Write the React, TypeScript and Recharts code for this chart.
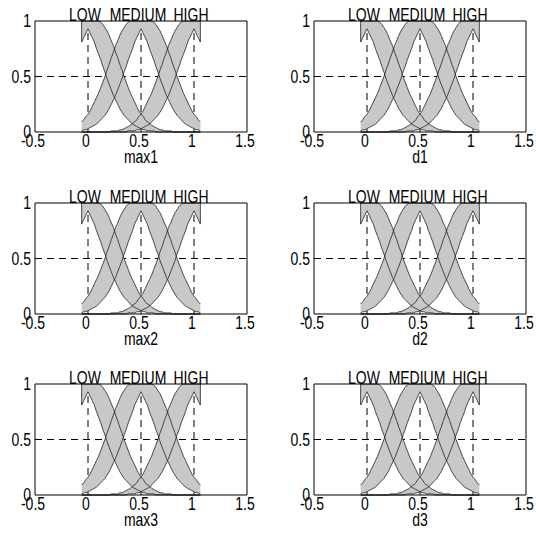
import { Area, CartesianGrid, ComposedChart, Line, ReferenceLine, XAxis, YAxis } from "recharts";

// universe of discourse sampled every 0.02
const xs = [
  -0.06, -0.04, -0.02, 0, 0.02, 0.04, 0.06, 0.08, 0.1, 0.12, 0.14, 0.16, 0.18, 0.2, 0.22,
  0.24, 0.26, 0.28, 0.3, 0.32, 0.34, 0.36, 0.38, 0.4, 0.42, 0.44, 0.46, 0.48, 0.5, 0.52,
  0.54, 0.56, 0.58, 0.6, 0.62, 0.64, 0.66, 0.68, 0.7, 0.72, 0.74, 0.76, 0.78, 0.8, 0.82,
  0.84, 0.86, 0.88, 0.9, 0.92, 0.94, 0.96, 0.98, 1, 1.02, 1.04, 1.06,
];

// upper / lower membership functions
const lowUpper = [
  1, 1, 1, 1, 1, 1, 1, 1, 1, 0.99, 0.97, 0.94, 0.91, 0.87, 0.82, 0.78, 0.72, 0.67, 0.61,
  0.56, 0.5, 0.45, 0.4, 0.35, 0.31, 0.27, 0.23, 0.19, 0.16, 0.14, 0.11, 0.09, 0.08, 0.06,
  0.05, 0.04, 0.03, 0.02, 0.02, 0.01, 0.01, 0.01, 0.01, 0, 0, 0, 0, 0, 0, 0, 0, 0, 0, 0, 0,
  0, 0,
];
const lowLower = [
  0.81, 0.85, 0.89, 0.93, 0.89, 0.85, 0.81, 0.75, 0.7, 0.65, 0.59, 0.54, 0.48, 0.43, 0.38,
  0.33, 0.29, 0.25, 0.21, 0.18, 0.15, 0.13, 0.11, 0.09, 0.07, 0.06, 0.05, 0.04, 0.03, 0.02,
  0.02, 0.01, 0.01, 0.01, 0.01, 0, 0, 0, 0, 0, 0, 0, 0, 0, 0, 0, 0, 0, 0, 0, 0, 0, 0, 0, 0,
  0, 0,
];
const mediumUpper = [
  0.09, 0.11, 0.14, 0.16, 0.19, 0.23, 0.27, 0.31, 0.35, 0.4, 0.45, 0.5, 0.56, 0.61, 0.67,
  0.72, 0.78, 0.82, 0.87, 0.91, 0.94, 0.97, 0.99, 1, 1, 1, 1, 1, 1, 1, 1, 1, 1, 1, 0.99,
  0.97, 0.94, 0.91, 0.87, 0.82, 0.78, 0.72, 0.67, 0.61, 0.56, 0.5, 0.45, 0.4, 0.35, 0.31,
  0.27, 0.23, 0.19, 0.16, 0.14, 0.11, 0.09,
];
const mediumLower = [
  0.01, 0.02, 0.02, 0.03, 0.04, 0.05, 0.06, 0.07, 0.09, 0.11, 0.13, 0.15, 0.18, 0.21, 0.25,
  0.29, 0.33, 0.38, 0.43, 0.48, 0.54, 0.59, 0.65, 0.7, 0.75, 0.81, 0.85, 0.89, 0.93, 0.89,
  0.85, 0.81, 0.75, 0.7, 0.65, 0.59, 0.54, 0.48, 0.43, 0.38, 0.33, 0.29, 0.25, 0.21, 0.18,
  0.15, 0.13, 0.11, 0.09, 0.07, 0.06, 0.05, 0.04, 0.03, 0.02, 0.02, 0.01,
];
const highUpper = [
  0, 0, 0, 0, 0, 0, 0, 0, 0, 0, 0, 0, 0, 0, 0.01, 0.01, 0.01, 0.01, 0.02, 0.02, 0.03, 0.04,
  0.05, 0.06, 0.08, 0.09, 0.11, 0.14, 0.16, 0.19, 0.23, 0.27, 0.31, 0.35, 0.4, 0.45, 0.5,
  0.56, 0.61, 0.67, 0.72, 0.78, 0.82, 0.87, 0.91, 0.94, 0.97, 0.99, 1, 1, 1, 1, 1, 1, 1, 1,
  1,
];
const highLower = [
  0, 0, 0, 0, 0, 0, 0, 0, 0, 0, 0, 0, 0, 0, 0, 0, 0, 0, 0, 0, 0, 0, 0.01, 0.01, 0.01, 0.01,
  0.02, 0.02, 0.03, 0.04, 0.05, 0.06, 0.07, 0.09, 0.11, 0.13, 0.15, 0.18, 0.21, 0.25, 0.29,
  0.33, 0.38, 0.43, 0.48, 0.54, 0.59, 0.65, 0.7, 0.75, 0.81, 0.85, 0.89, 0.93, 0.89, 0.85,
  0.81,
];

const setNames = ["LOW", "MEDIUM", "HIGH"];
const setCenters = [0, 0.5, 1];
const xTicks = [-0.5, 0, 0.5, 1, 1.5];
const yTicks = [0, 0.5, 1];
const gridLevels = [0.5];
const inputNames = ["max1", "d1", "max2", "d2", "max3", "d3"];

const rows = xs.map((x, i) => ({
  x,
  lowUp: lowUpper[i],
  lowLo: lowLower[i],
  medUp: mediumUpper[i],
  medLo: mediumLower[i],
  highUp: highUpper[i],
  highLo: highLower[i],
}));

const bands = [
  { up: "lowUp", lo: "lowLo" },
  { up: "medUp", lo: "medLo" },
  { up: "highUp", lo: "highLo" },
];

const FILL = "#c8c8c8";
const EDGE = "#222";
const FONT = "Liberation Sans";
const FS = 17.5;
const SX = 0.8; // matlab's narrow helvetica look
const last = xs.length - 1;

// tick text squeezed horizontally
function narrowTick(anchor: "middle" | "end", dy: string, dx: number, fmt?: (v: number) => string) {
  return (props: any) => {
    const { x, y, payload } = props;
    const txt = fmt ? fmt(payload.value) : String(payload.value);
    return (
      <text
        transform={`translate(${x + dx},${y}) scale(${SX},1)`}
        textAnchor={anchor}
        dy={dy}
        fontSize={FS}
        fontFamily={FONT}
        fill="#000"
      >
        {txt}
      </text>
    );
  };
}

function Subplot({ name, left, top }: { name: string; left: number; top: number }) {
  return (
    <div style={{ position: "absolute", left, top }}>
      <ComposedChart
        width={257}
        height={167}
        data={rows}
        margin={{ top: 0, right: 9, bottom: 4, left: 0 }}
      >
        {/* dashed guides sit under the bands, so the notches hide their tops */}
        <CartesianGrid
          stroke="#000"
          strokeDasharray="7 5"
          horizontalValues={gridLevels}
          verticalValues={setCenters}
        />
        <XAxis
          xAxisId="top"
          orientation="top"
          type="number"
          dataKey="x"
          domain={[-0.5, 1.5]}
          ticks={setCenters}
          height={21}
          tickLine={false}
          tickSize={0}
          tickMargin={0}
          tick={narrowTick("middle", "0", -3, (v) => setNames[setCenters.indexOf(v)])}
          axisLine={{ stroke: "#000" }}
          interval={0}
        />
        <XAxis
          type="number"
          dataKey="x"
          domain={[-0.5, 1.5]}
          ticks={xTicks}
          height={31}
          tickLine={false}
          tickSize={0}
          tickMargin={3}
          tick={narrowTick("middle", "0.71em", -2)}
          axisLine={{ stroke: "#000" }}
          interval={0}
          label={(p: any) => {
            const vb = p.viewBox;
            return (
              <text
                transform={`translate(${vb.x + vb.width / 2},${vb.y + vb.height}) scale(${SX},1)`}
                textAnchor="middle"
                fontSize={FS}
                fontFamily={FONT}
                fill="#000"
              >
                {name}
              </text>
            );
          }}
        />
        <YAxis
          type="number"
          domain={[0, 1]}
          ticks={yTicks}
          width={35}
          tickLine={false}
          tickSize={0}
          tickMargin={4}
          tick={narrowTick("end", "0.355em", 0)}
          axisLine={{ stroke: "#000" }}
          interval={0}
        />
        <YAxis
          yAxisId="r"
          orientation="right"
          type="number"
          domain={[0, 1]}
          width={1}
          tick={false}
          tickLine={false}
          axisLine={{ stroke: "#000" }}
        />
        {bands.map((b) => (
          <Area
            key={"a" + b.up}
            dataKey={(d: any) => [d[b.lo], d[b.up]]}
            type="linear"
            fill={FILL}
            fillOpacity={1}
            stroke="none"
            isAnimationActive={false}
          />
        ))}
        {bands.map((b) => [
          <Line
            key={"u" + b.up}
            dataKey={b.up}
            type="linear"
            stroke={EDGE}
            strokeWidth={0.8}
            dot={false}
            isAnimationActive={false}
          />,
          <Line
            key={"l" + b.lo}
            dataKey={b.lo}
            type="linear"
            stroke={EDGE}
            strokeWidth={0.8}
            dot={false}
            isAnimationActive={false}
          />,
        ])}
        <ReferenceLine
          segment={[
            { x: xs[0], y: lowLower[0] },
            { x: xs[0], y: lowUpper[0] },
          ]}
          stroke={EDGE}
          strokeWidth={0.8}
        />
        <ReferenceLine
          segment={[
            { x: xs[last], y: highLower[last] },
            { x: xs[last], y: highUpper[last] },
          ]}
          stroke={EDGE}
          strokeWidth={0.8}
        />
      </ComposedChart>
    </div>
  );
}

export default function App() {
  const rowTops = [0, 182, 363];
  const colLefts = [0, 279];
  return (
    <div
      style={{
        position: "absolute",
        left: 0,
        top: 0,
        width: 536,
        height: 545,
        background: "#fff",
        fontFamily: FONT,
      }}
    >
      {inputNames.map((n, i) => (
        <Subplot key={n} name={n} left={colLefts[i % 2]} top={rowTops[Math.floor(i / 2)]} />
      ))}
    </div>
  );
}
